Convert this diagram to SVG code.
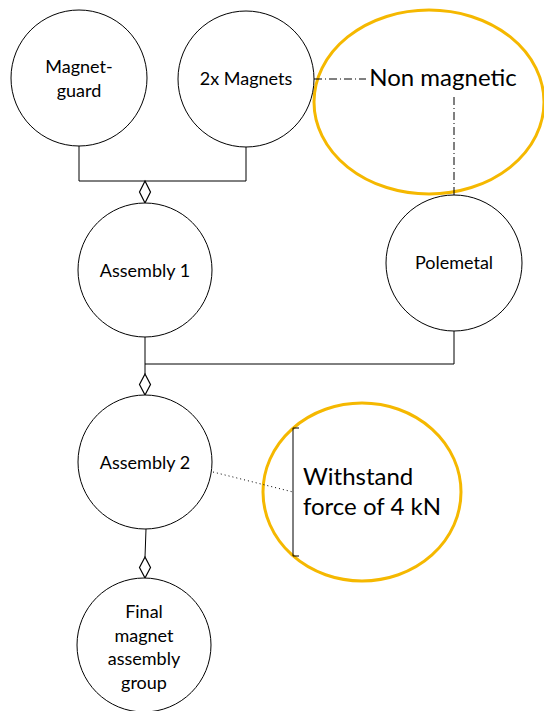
<svg xmlns="http://www.w3.org/2000/svg" width="544" height="711" viewBox="0 0 544 711">
  <defs>
    <style>
      .node { fill: #ffffff; stroke: #000000; stroke-width: 1; }
      .label { font-family: Lato, "Liberation Sans", sans-serif; font-size: 18px; fill: #000000; text-anchor: middle; }
      .note { fill: none; stroke: #f5b800; stroke-width: 3; }
      .big { font-family: Lato, "Liberation Sans", sans-serif; font-size: 24px; fill: #000000; }
      .wire { fill: none; stroke: #000000; stroke-width: 1; }
      .dia { fill: #ffffff; stroke: #000000; stroke-width: 1.2; }
    </style>
  </defs>

  <!-- annotations -->
  <g id="note-non-magnetic">
    <ellipse class="note" cx="429" cy="102" rx="115" ry="92"/>
    <text class="big" x="443" y="86" text-anchor="middle">Non magnetic</text>
  </g>
  <g id="note-force">
    <ellipse class="note" cx="362" cy="492" rx="99" ry="89"/>
    <path class="wire" d="M299,428 H293 V556 H299"/>
    <text class="big" x="303" y="485">Withstand</text>
    <text class="big" x="303" y="515">force of 4 kN</text>
  </g>

  <!-- connectors -->
  <g id="connectors">
    <path class="wire" d="M79,146 V181 H246 V146"/>
    <path class="dia" d="M145,181 L150.5,192 L145,203 L139.5,192 Z"/>
    <path class="wire" d="M145,337 V364 H454 V331"/>
    <path class="wire" d="M145,364 V374"/>
    <path class="dia" d="M145,374 L150.5,384.5 L145,395 L139.5,384.5 Z"/>
    <path class="wire" d="M146,529 L145,557"/>
    <path class="dia" d="M145,557 L150.5,567.5 L145,578 L139.5,567.5 Z"/>
    <path class="wire" d="M314,79 H366" stroke-dasharray="8,3,1,3"/>
    <path class="wire" d="M454,97 V195" stroke-dasharray="8,3,1,3"/>
    <path class="wire" d="M213,472 L293,492" stroke-dasharray="1,3"/>
  </g>

  <!-- nodes -->
  <g id="magnet-guard">
    <circle class="node" cx="79" cy="78" r="68"/>
    <text class="label" x="79" y="73">Magnet-</text>
    <text class="label" x="79" y="97">guard</text>
  </g>
  <g id="magnets">
    <circle class="node" cx="246" cy="79" r="68"/>
    <text class="label" x="246" y="85">2x Magnets</text>
  </g>
  <g id="assembly-1">
    <circle class="node" cx="145" cy="270" r="67"/>
    <text class="label" x="145" y="277">Assembly 1</text>
  </g>
  <g id="polemetal">
    <circle class="node" cx="454" cy="263" r="68"/>
    <text class="label" x="454" y="269">Polemetal</text>
  </g>
  <g id="assembly-2">
    <circle class="node" cx="145" cy="462" r="67"/>
    <text class="label" x="145" y="469">Assembly 2</text>
  </g>
  <g id="final-group">
    <circle class="node" cx="144" cy="645" r="67"/>
    <text class="label" x="144" y="618">Final</text>
    <text class="label" x="144" y="642">magnet</text>
    <text class="label" x="144" y="665">assembly</text>
    <text class="label" x="144" y="689">group</text>
  </g>
</svg>
